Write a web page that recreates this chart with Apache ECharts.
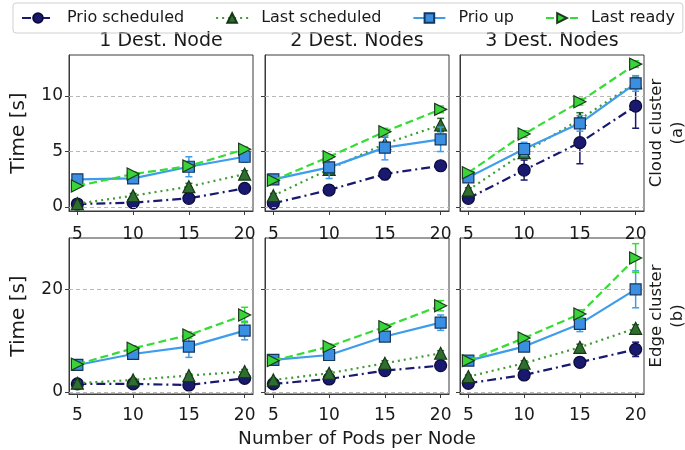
<!DOCTYPE html>
<html>
<head>
<meta charset="utf-8">
<script src="https://cdn.jsdelivr.net/npm/echarts@6/dist/echarts.min.js"></script>
<style>html,body{margin:0;padding:0;background:#fff}#c{width:685px;height:450px}</style>
</head>
<body>
<div id="c"></div>
<script>
// ---- data ----
const PODS = [5, 10, 15, 20];
const DEST_TITLES = ['1 Dest. Node', '2 Dest. Nodes', '3 Dest. Nodes'];
const SERIES_NAMES = ['Prio scheduled', 'Last scheduled', 'Prio up', 'Last ready'];
const ROW_LABELS = ['Cloud cluster\n(a)', 'Edge cluster\n(b)'];
const CLOUD_TICKS = [0, 5, 10];
const EDGE_TICKS = [0, 20];

// cloud cluster: one row per number of destination nodes (1, 2, 3)
const cloudPrioSched = [[0.27, 0.39, 0.78, 1.68], [0.33, 1.53, 2.97, 3.72], [0.78, 3.33, 5.8, 9.1]];
const cloudLastSched = [[0.3, 1.02, 1.83, 2.97], [1.02, 3.4, 5.7, 7.39], [1.53, 4.9, 7.9, 11.2]];
const cloudPrioUp = [[2.49, 2.58, 3.63, 4.53], [2.49, 3.57, 5.35, 6.1], [2.67, 5.23, 7.54, 11.14]];
const cloudLastReady = [[1.89, 2.97, 3.69, 5.2], [2.4, 4.53, 6.79, 8.8], [3.09, 6.58, 9.49, 12.88]];
const cloudPrioSchedErr = [[0.1, 0.1, 0.2, 0.3], [0.1, 0.2, 0.5, 0.3], [0.2, 0.9, 1.9, 2.0]];
const cloudLastSchedErr = [[0.1, 0.2, 0.3, 0.3], [0.2, 0.5, 0.6, 0.6], [0.2, 0.5, 0.6, 0.5]];
const cloudPrioUpErr = [[0.2, 0.3, 0.9, 0.5], [0.2, 1.0, 1.1, 1.1], [0.3, 0.6, 0.7, 0.7]];
const cloudLastReadyErr = [[0.1, 0.2, 0.2, 0.2], [0.1, 0.2, 0.3, 0.3], [0.2, 0.3, 0.3, 0.3]];

// edge cluster
const edgePrioSched = [[1.56, 1.56, 1.36, 2.66], [1.56, 2.53, 4.16, 5.14], [1.69, 3.31, 5.78, 8.3]];
const edgeLastSched = [[1.7, 2.34, 3.2, 3.97], [2.34, 3.64, 5.59, 7.54], [2.99, 5.59, 8.7, 12.4]];
const edgePrioUp = [[5.26, 7.4, 8.84, 11.96], [6.24, 7.2, 10.8, 13.5], [6.1, 8.84, 13.26, 20.0]];
const edgeLastReady = [[5.4, 8.5, 11.1, 15.0], [6.1, 8.84, 12.7, 16.8], [6.1, 10.5, 15.2, 26.1]];
const edgePrioSchedErr = [[0.3, 0.3, 0.3, 0.5], [0.3, 0.4, 0.5, 0.6], [0.3, 0.4, 0.6, 1.4]];
const edgeLastSchedErr = [[0.3, 0.3, 0.3, 0.4], [0.3, 0.4, 0.5, 0.5], [0.3, 0.5, 0.6, 0.7]];
const edgePrioUpErr = [[0.4, 0.6, 2.1, 1.8], [0.4, 0.6, 0.8, 1.5], [0.4, 0.6, 1.5, 3.6]];
const edgeLastReadyErr = [[0.3, 0.5, 0.6, 1.5], [0.3, 0.5, 0.6, 1.0], [0.3, 0.5, 0.8, 2.8]];

// ---- styles ----
const STYLES = [
  { line: '#191970', fill: '#191970', edge: '#0b0b3a', type: [9, 4, 2, 4], symbol: 'circle', size: 12, rotate: 0, err: '#191970' },
  { line: '#3f9b33', fill: '#2e6e2e', edge: '#163816', type: [2, 4], symbol: 'triangle', size: 12, rotate: 0, err: '#2e6e2e' },
  { line: '#3d9cec', fill: '#3a8fe2', edge: '#16365a', type: 'solid', symbol: 'rect', size: 11, rotate: 0, err: '#3d9cec' },
  { line: '#33dd33', fill: '#39d439', edge: '#1d3a1d', type: [8, 4], symbol: 'triangle', size: 12, rotate: -90, err: '#33dd33' }
];

const LEFTS = [69, 265, 460];
const TOPS = [55, 238];
const GW = 184, GH = 156;
const YRANGES = [[-0.36, 13.7], [-0.4, 30.0]];
const ROW_DATA = [
  [cloudPrioSched, cloudLastSched, cloudPrioUp, cloudLastReady],
  [edgePrioSched, edgeLastSched, edgePrioUp, edgeLastReady]
];
const ROW_ERR = [
  [cloudPrioSchedErr, cloudLastSchedErr, cloudPrioUpErr, cloudLastReadyErr],
  [edgePrioSchedErr, edgeLastSchedErr, edgePrioUpErr, edgeLastReadyErr]
];
const ROW_TICKS = [CLOUD_TICKS, EDGE_TICKS];
const FONT = 'DejaVu Sans';

const grid = [], xAxis = [], yAxis = [], series = [];

function errRender(params, api) {
  const x = api.value(0), lo = api.value(1), hi = api.value(2);
  const p1 = api.coord([x, lo]), p2 = api.coord([x, hi]);
  const cap = 3.5;
  const st = { stroke: api.visual('color'), lineWidth: 1.5 };
  return {
    type: 'group', children: [
      { type: 'line', shape: { x1: p1[0], y1: p1[1], x2: p2[0], y2: p2[1] }, style: st },
      { type: 'line', shape: { x1: p1[0] - cap, y1: p1[1], x2: p1[0] + cap, y2: p1[1] }, style: st },
      { type: 'line', shape: { x1: p2[0] - cap, y1: p2[1], x2: p2[0] + cap, y2: p2[1] }, style: st }
    ]
  };
}

for (let r = 0; r < 2; r++) {
  for (let c = 0; c < 3; c++) {
    const gi = r * 3 + c;
    grid.push({ left: LEFTS[c], top: TOPS[r], width: GW, height: GH, show: true, borderColor: '#3a3a3a', borderWidth: 1, backgroundColor: 'transparent' });
    const xa = {
      type: 'value', gridIndex: gi, min: 4.25, max: 20.75,
      axisLine: { show: true, onZero: false, lineStyle: { color: '#3a3a3a' } },
      axisTick: { show: true, length: 4, customValues: PODS, lineStyle: { color: '#3a3a3a' } },
      axisLabel: { show: true, customValues: PODS, color: '#1a1a1a', fontFamily: FONT, fontSize: 17, margin: r === 0 ? 15 : 13 },
      splitLine: { show: false }
    };
    if (r === 1 && c === 1) {
      xa.name = 'Number of Pods per Node';
      xa.nameLocation = 'middle';
      xa.nameGap = 36;
      xa.nameTextStyle = { fontFamily: FONT, fontSize: 18.5, color: '#1a1a1a' };
    }
    xAxis.push(xa);
    const ya = {
      type: 'value', gridIndex: gi, min: YRANGES[r][0], max: YRANGES[r][1],
      axisLine: { show: true, onZero: false, lineStyle: { color: '#3a3a3a' } },
      axisTick: { show: true, length: 4, customValues: ROW_TICKS[r], lineStyle: { color: '#3a3a3a' } },
      axisLabel: { show: c === 0, customValues: ROW_TICKS[r], color: '#1a1a1a', fontFamily: FONT, fontSize: 17, margin: 6 },
      splitLine: { show: false }
    };
    if (c === 0) {
      ya.name = 'Time [s]';
      ya.nameLocation = 'middle';
      ya.nameGap = 40;
      ya.nameTextStyle = { fontFamily: FONT, fontSize: 20, color: '#1a1a1a' };
    }
    yAxis.push(ya);

    // grid lines (dashed) at the tick values
    series.push({
      type: 'line', xAxisIndex: gi, yAxisIndex: gi, data: [], silent: true, z: 0,
      markLine: {
        silent: true, symbol: 'none', label: { show: false },
        lineStyle: { color: '#b8b8b8', type: [4, 3], width: 1 },
        data: ROW_TICKS[r].map(v => ({ yAxis: v }))
      }
    });

    for (let s = 0; s < 4; s++) {
      const st = STYLES[s];
      const vals = ROW_DATA[r][s][c];
      const errs = ROW_ERR[r][s][c];
      series.push({
        type: 'custom', name: '_err' + s, xAxisIndex: gi, yAxisIndex: gi, z: 2 + s * 2,
        renderItem: errRender, itemStyle: { color: st.err },
        encode: { x: 0, y: [1, 2] },
        data: PODS.map((x, i) => [x, vals[i] - errs[i], vals[i] + errs[i]]),
        silent: true
      });
      series.push({
        type: 'line', name: SERIES_NAMES[s], xAxisIndex: gi, yAxisIndex: gi, z: 3 + s * 2,
        data: PODS.map((x, i) => [x, vals[i]]),
        symbol: st.symbol, symbolSize: st.size, symbolRotate: st.rotate,
        showAllSymbol: true,
        lineStyle: { color: st.line, width: 2.2, type: st.type },
        itemStyle: { color: st.fill, borderColor: st.edge, borderWidth: 1.2 },
        emphasis: { disabled: true },
        animation: false
      });
    }
  }
}

const graphic = [];
const CENTERS = LEFTS.map(l => l + GW / 2);
DEST_TITLES.forEach((t, i) => {
  graphic.push({ type: 'text', x: CENTERS[i], y: 41, style: { text: t, fontFamily: FONT, fontSize: 19, fill: '#1a1a1a', textAlign: 'center', textVerticalAlign: 'middle' } });
});
ROW_LABELS.forEach((t, r) => {
  graphic.push({ type: 'text', x: 667, y: TOPS[r] + GH / 2, rotation: Math.PI / 2, style: { text: t, fontFamily: FONT, fontSize: 16.5, fill: '#1a1a1a', textAlign: 'center', textVerticalAlign: 'middle', lineHeight: 21 } });
});

const chart = echarts.init(document.getElementById('c'), null, { renderer: 'canvas' });
chart.setOption({
  animation: false,
  backgroundColor: '#fff',
  legend: {
    data: SERIES_NAMES, left: 13, top: 3, padding: [7, 8, 7, 8],
    itemGap: 31, itemWidth: 32, itemHeight: 12,
    borderColor: '#d0d0d0', borderWidth: 1, borderRadius: 3,
    textStyle: { fontFamily: FONT, fontSize: 16, color: '#1a1a1a', padding: [0, 0, 0, 8] },
    selectedMode: false
  },
  grid, xAxis, yAxis, series, graphic
});
</script>
</body>
</html>
